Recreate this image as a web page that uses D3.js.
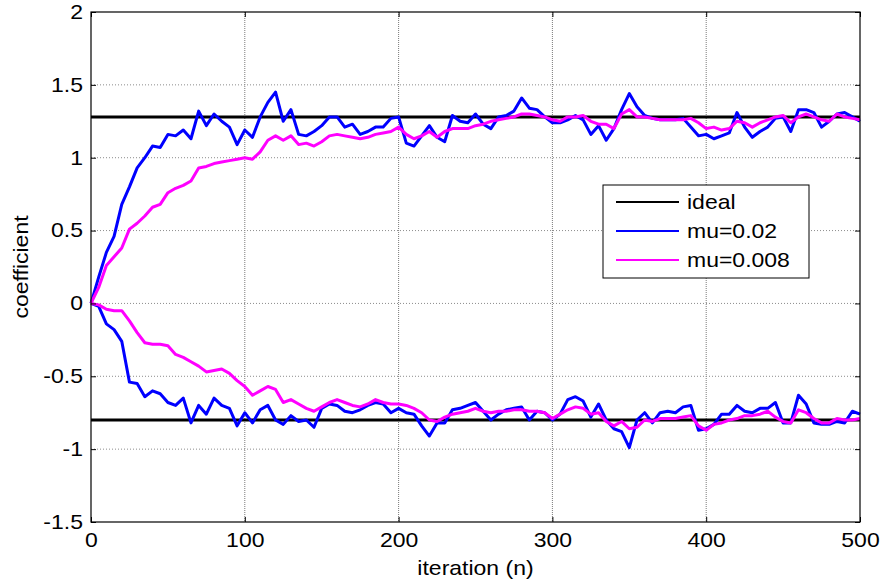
<!DOCTYPE html>
<html>
<head>
<meta charset="utf-8">
<script src="https://cdn.jsdelivr.net/npm/d3@7"></script>
<style>
body { margin: 0; background: #fff; }
text { font-family: "Liberation Sans", Arial, sans-serif; fill: #000; }
</style>
</head>
<body>
<div id="chart"></div>
<script>
// iteration index of every sample (read every 5 iterations)
const iterations = d3.range(0, 501, 5);

// ideal coefficient values
const idealValues = [1.28, -0.80];

// first coefficient (upper), mu=0.02
const mu002Upper = [
  0, 0.18, 0.35, 0.46, 0.68, 0.80, 0.93, 1.00, 1.08, 1.07,
  1.16, 1.15, 1.19, 1.13, 1.32, 1.22, 1.30, 1.25, 1.21, 1.09,
  1.19, 1.14, 1.28, 1.38, 1.45, 1.25, 1.33, 1.16, 1.15, 1.18,
  1.22, 1.28, 1.28, 1.21, 1.23, 1.16, 1.18, 1.21, 1.21, 1.27,
  1.28, 1.10, 1.08, 1.15, 1.22, 1.14, 1.11, 1.29, 1.25, 1.24,
  1.30, 1.23, 1.20, 1.28, 1.29, 1.32, 1.41, 1.34, 1.33, 1.28,
  1.24, 1.24, 1.26, 1.29, 1.26, 1.16, 1.22, 1.12, 1.20, 1.33,
  1.44, 1.35, 1.29, 1.27, 1.26, 1.26, 1.26, 1.27, 1.21, 1.15,
  1.16, 1.13, 1.15, 1.17, 1.31, 1.21, 1.14, 1.18, 1.21, 1.27,
  1.28, 1.18, 1.33, 1.33, 1.31, 1.21, 1.25, 1.30, 1.31, 1.28,
  1.25
];

// first coefficient (upper), mu=0.008
const mu0008Upper = [
  0, 0.11, 0.26, 0.32, 0.38, 0.51, 0.55, 0.60, 0.66, 0.68,
  0.76, 0.79, 0.81, 0.84, 0.93, 0.94, 0.96, 0.97, 0.98, 0.99,
  1.00, 0.99, 1.04, 1.12, 1.15, 1.12, 1.15, 1.09, 1.10, 1.08,
  1.11, 1.15, 1.16, 1.15, 1.14, 1.13, 1.14, 1.16, 1.17, 1.18,
  1.21, 1.16, 1.13, 1.15, 1.18, 1.14, 1.18, 1.20, 1.20, 1.20,
  1.22, 1.23, 1.25, 1.26, 1.27, 1.28, 1.30, 1.30, 1.29, 1.28,
  1.26, 1.25, 1.28, 1.28, 1.29, 1.25, 1.23, 1.23, 1.20, 1.30,
  1.33, 1.28, 1.28, 1.27, 1.26, 1.26, 1.26, 1.26, 1.27, 1.24,
  1.20, 1.21, 1.19, 1.20, 1.25, 1.24, 1.21, 1.24, 1.26, 1.28,
  1.29, 1.24, 1.28, 1.30, 1.28, 1.26, 1.25, 1.30, 1.28, 1.27,
  1.26
];

// second coefficient (lower), mu=0.02
const mu002Lower = [
  0, -0.02, -0.14, -0.18, -0.26, -0.54, -0.55, -0.64, -0.60, -0.62,
  -0.68, -0.70, -0.65, -0.82, -0.70, -0.76, -0.65, -0.70, -0.72, -0.84,
  -0.75, -0.82, -0.73, -0.70, -0.80, -0.83, -0.77, -0.81, -0.80, -0.85,
  -0.72, -0.69, -0.70, -0.74, -0.75, -0.73, -0.70, -0.68, -0.69, -0.75,
  -0.72, -0.75, -0.76, -0.84, -0.91, -0.82, -0.82, -0.73, -0.72, -0.70,
  -0.68, -0.74, -0.80, -0.76, -0.73, -0.72, -0.71, -0.80, -0.74, -0.75,
  -0.80, -0.76, -0.66, -0.64, -0.67, -0.78, -0.69, -0.80, -0.86, -0.88,
  -0.99, -0.80, -0.75, -0.82, -0.75, -0.74, -0.75, -0.71, -0.70, -0.87,
  -0.86, -0.83, -0.76, -0.76, -0.70, -0.74, -0.75, -0.72, -0.72, -0.68,
  -0.82, -0.82, -0.63, -0.69, -0.82, -0.83, -0.83, -0.81, -0.82, -0.74,
  -0.76
];

// second coefficient (lower), mu=0.008
const mu0008Lower = [
  0, -0.01, -0.04, -0.05, -0.05, -0.12, -0.20, -0.27, -0.28, -0.28,
  -0.29, -0.35, -0.37, -0.40, -0.43, -0.47, -0.46, -0.45, -0.48, -0.53,
  -0.57, -0.63, -0.60, -0.57, -0.59, -0.68, -0.66, -0.69, -0.72, -0.74,
  -0.71, -0.68, -0.66, -0.68, -0.70, -0.71, -0.69, -0.66, -0.68, -0.69,
  -0.69, -0.70, -0.72, -0.75, -0.80, -0.81, -0.78, -0.76, -0.75, -0.74,
  -0.72, -0.74, -0.75, -0.74, -0.74, -0.73, -0.73, -0.74, -0.74, -0.75,
  -0.79, -0.76, -0.73, -0.71, -0.72, -0.76, -0.75, -0.81, -0.84, -0.81,
  -0.86, -0.85, -0.80, -0.81, -0.79, -0.79, -0.79, -0.78, -0.77, -0.84,
  -0.87, -0.83, -0.82, -0.80, -0.79, -0.77, -0.77, -0.76, -0.74, -0.78,
  -0.81, -0.82, -0.73, -0.75, -0.79, -0.82, -0.82, -0.79, -0.80, -0.80,
  -0.79
];

const xTicks = [0, 100, 200, 300, 400, 500];
const yTicks = [-1.5, -1, -0.5, 0, 0.5, 1, 1.5, 2];
const legendLabels = ["ideal", "mu=0.02", "mu=0.008"];
const legendColors = ["#000000", "#0000ff", "#ff00ff"];

// --- layout
const width = 885, height = 583;
const plot = {left: 91, right: 860, top: 12, bottom: 522};
const fontSize = 20;
const stretch = 1.15; // text in the figure is drawn a bit wide
const lineW = 3;

const svg = d3.select("#chart")
  .append("svg")
  .attr("width", width)
  .attr("height", height);

const x = d3.scaleLinear().domain([0, 500]).range([plot.left, plot.right]);
const y = d3.scaleLinear().domain([-1.5, 2]).range([plot.bottom, plot.top]);

// widen a text element round its own anchor
function widen(sel) {
  sel.each(function () {
    const t = d3.select(this);
    const tx = +t.attr("x") || 0;
    t.attr("x", 0).attr("transform", `translate(${tx},0) scale(${stretch},1)`);
  });
}

// grid
const grid = svg.append("g");
grid.selectAll(".vgrid")
  .data(xTicks.slice(1, -1))
  .join("line")
  .attr("x1", d => x(d)).attr("x2", d => x(d))
  .attr("y1", plot.top).attr("y2", plot.bottom)
  .attr("stroke", "#7a7a7a")
  .attr("stroke-width", 1)
  .attr("stroke-dasharray", "1,1");
grid.selectAll(".hgrid")
  .data(yTicks.slice(1, -1))
  .join("line")
  .attr("x1", plot.left).attr("x2", plot.right)
  .attr("y1", d => y(d)).attr("y2", d => y(d))
  .attr("stroke", "#8c8c8c")
  .attr("stroke-width", 1)
  .attr("stroke-dasharray", "1,2");

// lines
const line = d3.line()
  .x((d, i) => x(iterations[i]))
  .y(d => y(d));

const lines = svg.append("g").attr("fill", "none").attr("stroke-linejoin", "round");

idealValues.forEach(v => {
  lines.append("line")
    .attr("x1", x(0)).attr("x2", x(500))
    .attr("y1", y(v)).attr("y2", y(v))
    .attr("stroke", legendColors[0])
    .attr("stroke-width", lineW);
});

[mu002Upper, mu002Lower].forEach(s => {
  lines.append("path").attr("d", line(s))
    .attr("stroke", legendColors[1]).attr("stroke-width", lineW);
});
[mu0008Upper, mu0008Lower].forEach(s => {
  lines.append("path").attr("d", line(s))
    .attr("stroke", legendColors[2]).attr("stroke-width", lineW);
});

// axes (ticks point inwards, box on)
const fmt = d => String(d);

const bottom = svg.append("g")
  .attr("transform", `translate(0,${plot.bottom})`)
  .call(d3.axisBottom(x).tickValues(xTicks).tickFormat(fmt)
    .tickSizeInner(-5).tickSizeOuter(0).tickPadding(11));
const left = svg.append("g")
  .attr("transform", `translate(${plot.left},0)`)
  .call(d3.axisLeft(y).tickValues(yTicks).tickFormat(fmt)
    .tickSizeInner(-5).tickSizeOuter(0).tickPadding(8));
svg.append("g")
  .attr("transform", `translate(0,${plot.top})`)
  .call(d3.axisTop(x).tickValues(xTicks).tickFormat("")
    .tickSizeInner(-5).tickSizeOuter(0));
svg.append("g")
  .attr("transform", `translate(${plot.right},0)`)
  .call(d3.axisRight(y).tickValues(yTicks).tickFormat("")
    .tickSizeInner(-5).tickSizeOuter(0));

svg.selectAll(".domain").remove();
svg.selectAll(".tick line").attr("stroke", "#000");
svg.selectAll(".tick text")
  .attr("font-size", fontSize)
  .attr("font-family", "'Liberation Sans', Arial, sans-serif")
  .attr("fill", "#000");
bottom.selectAll(".tick text").call(widen);
left.selectAll(".tick text").call(widen);

svg.append("rect")
  .attr("x", plot.left).attr("y", plot.top)
  .attr("width", plot.right - plot.left)
  .attr("height", plot.bottom - plot.top)
  .attr("fill", "none")
  .attr("stroke", "#000")
  .attr("stroke-width", 1.2);

// axis labels
svg.append("text")
  .attr("transform", `translate(${(plot.left + plot.right) / 2},575) scale(${stretch},1)`)
  .attr("text-anchor", "middle")
  .attr("font-size", fontSize)
  .text("iteration (n)");

svg.append("text")
  .attr("transform", `translate(28,${(plot.top + plot.bottom) / 2}) rotate(-90) scale(${stretch},1)`)
  .attr("text-anchor", "middle")
  .attr("font-size", fontSize)
  .text("coefficient");

// legend
const legend = svg.append("g").attr("transform", "translate(603,185)");
legend.append("rect")
  .attr("width", 206).attr("height", 93)
  .attr("fill", "#fff").attr("stroke", "#000").attr("stroke-width", 1);

const items = legend.selectAll(".item")
  .data(legendLabels)
  .join("g")
  .attr("transform", (d, i) => `translate(0,${17 + i * 29})`);
items.append("line")
  .attr("x1", 13).attr("x2", 76)
  .attr("stroke", (d, i) => legendColors[i])
  .attr("stroke-width", 2);
items.append("text")
  .attr("transform", `translate(84,7) scale(${stretch},1)`)
  .attr("font-size", fontSize)
  .text(d => d);
</script>
</body>
</html>
